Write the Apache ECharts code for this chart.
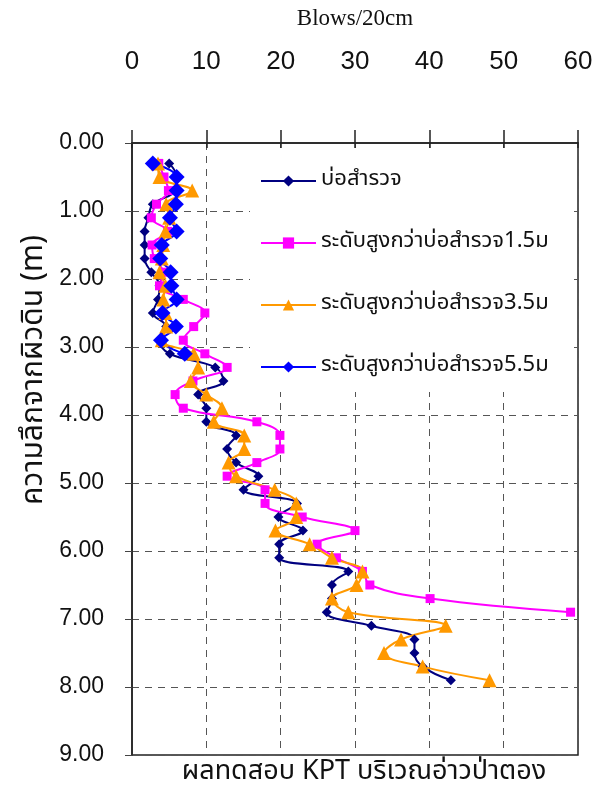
<!DOCTYPE html>
<html>
<head>
<meta charset="utf-8">
<script src="https://cdn.jsdelivr.net/npm/echarts@6/dist/echarts.min.js"></script>
<style>
  html, body { margin: 0; padding: 0; background: #fff; }
  #chart { width: 607px; height: 791px; }
</style>
</head>
<body>
<div id="chart"></div>
<script>
// depth of each reading (m)
const depths = [0.3, 0.5, 0.7, 0.9, 1.1, 1.3, 1.5, 1.7, 1.9, 2.1, 2.3, 2.5, 2.7, 2.9, 3.1,
  3.3, 3.5, 3.7, 3.9, 4.1, 4.3, 4.5, 4.7, 4.9, 5.1, 5.3, 5.5, 5.7, 5.9, 6.1,
  6.3, 6.5, 6.7, 6.9, 7.1, 7.3, 7.5, 7.7, 7.9]

// blows / 20cm
const wellData = [5, 6, 5.8, 2.8, 2.2, 1.7, 1.7, 1.7, 2.6, 3.7, 3.5, 2.8, 4.6, 3.7, 5.1,
  11.2, 12.3, 8.9, 10, 10, 14, 12.8, 14, 17, 15, 22.2, 19.7, 23, 19.8, 19.8,
  29.1, 26.9, 26.9, 26.2, 32.2, 38, 38, 39.1, 42.9]
const up15Data = [3.6, 4.3, 4.9, 3.3, 2.6, 4.8, 2.7, 3, 4.2, 3.7, 6.9, 9.8, 8.3, 6.9, 9.8,
  12.8, 8.2, 5.8, 6.9, 16.8, 19.9, 19.9, 16.8, 12.8, 17.9, 17.9, 22.9, 30, 24.9, 27.5,
  31, 32, 40.1, 59]
const up35Data = [3.5, 3.7, 8.1, 4.6, 5, 4.5, 4.2, 4, 3.7, 4.5, 4.2, 4.5, 4.6, 4, 8.3,
  8.9, 7.9, 10, 12.1, 11, 15.1, 15.1, 13, 14, 19.2, 22.1, 22.1, 19.3, 23.9, 26.9,
  31, 30.2, 26.9, 29.1, 42.2, 36.2, 33.9, 39.1, 48.1]
const up55Data = [2.8, 6, 6, 5.9, 5.1, 6, 4, 3.8, 5.2, 5.3, 6, 4.1, 5.9, 3.9, 7.1]

const xTicks = [0, 10, 20, 30, 40, 50, 60]
const yTicks = [0, 1, 2, 3, 4, 5, 6, 7, 8, 9]

const SERIES = [
  { name: 'บ่อสำรวจ', data: wellData, color: '#000080', symbol: 'diamond', size: 10 },
  { name: 'ระดับสูงกว่าบ่อสำรวจ1.5ม', data: up15Data, color: '#FF00FF', symbol: 'rect', size: 9 },
  { name: 'ระดับสูงกว่าบ่อสำรวจ3.5ม', data: up35Data, color: '#FF9900', symbol: 'triangle', size: 14 },
  { name: 'ระดับสูงกว่าบ่อสำรวจ5.5ม', data: up55Data, color: '#0000FF', symbol: 'diamond', size: 16 },
]

const THAI_FONT = "'Noto Sans Thai', 'Noto Sans', 'DejaVu Sans', sans-serif"
const AXIS_FONT = "'Liberation Sans Narrow', 'Liberation Sans', Arial, sans-serif"
const gridDash = { color: '#555', type: [7, 6], width: 1 }

const chart = echarts.init(document.getElementById('chart'))
chart.setOption({
  animation: false,
  grid: {
    left: 132,
    right: 29,
    top: 143,
    bottom: 36,
    show: true,
    borderColor: '#222',
    borderWidth: 1.5,
  },
  xAxis: [
    {
      type: 'value',
      position: 'top',
      min: xTicks[0],
      max: xTicks[xTicks.length - 1],
      interval: 10,
      name: 'Blows/20cm',
      nameLocation: 'middle',
      nameGap: 113,
      nameTextStyle: { fontFamily: "'Liberation Serif', 'Times New Roman', serif", fontSize: 23, color: '#111' },
      axisLine: { show: true, lineStyle: { color: '#222', width: 1.5 } },
      axisTick: { show: true, inside: false, length: 13, lineStyle: { color: '#222', width: 1.5 } },
      axisLabel: { color: '#111', fontSize: 26, fontFamily: AXIS_FONT, margin: 68 },
      splitLine: { show: true, lineStyle: gridDash },
    },
    {
      type: 'value',
      position: 'top',
      min: xTicks[0],
      max: xTicks[xTicks.length - 1],
      interval: 10,
      axisLine: { show: false },
      axisTick: { show: true, inside: true, length: 5, lineStyle: { color: '#222', width: 1.5 } },
      axisLabel: { show: false },
      splitLine: { show: false },
    },
  ],
  yAxis: {
    type: 'value',
    inverse: true,
    min: yTicks[0],
    max: yTicks[yTicks.length - 1],
    interval: 1,
    axisLine: { show: true, lineStyle: { color: '#222', width: 1.5 } },
    axisTick: { show: true, inside: false, length: 7, lineStyle: { color: '#444', width: 1 } },
    axisLabel: {
      color: '#111',
      fontSize: 23,
      fontFamily: "'Liberation Sans', Arial, sans-serif",
      margin: 28,
      formatter: (v) => v.toFixed(2),
    },
    splitLine: { show: true, lineStyle: gridDash },
  },
  legend: {
    orient: 'vertical',
    left: 250,
    top: 148,
    padding: [22, 20, 14, 10],
    backgroundColor: '#fff',
    itemWidth: 55,
    itemHeight: 14,
    itemGap: 40,
    textStyle: { fontFamily: THAI_FONT, fontSize: 22, color: '#111' },
    data: SERIES.map((s) => s.name),
  },
  graphic: [
    {
      type: 'text',
      x: 36,
      y: 370,
      rotation: Math.PI / 2,
      style: {
        text: 'ความลึกจากผิวดิน (m)',
        font: `30px ${THAI_FONT}`,
        fill: '#111',
        align: 'center',
        verticalAlign: 'middle',
      },
    },
    {
      type: 'text',
      x: 364,
      y: 774,
      style: {
        text: 'ผลทดสอบ KPT บริเวณอ่าวป่าตอง',
        font: `27px ${THAI_FONT}`,
        fill: '#111',
        align: 'center',
        verticalAlign: 'middle',
      },
    },
  ],
  series: SERIES.map((s) => ({
    name: s.name,
    type: 'line',
    smooth: 0.4,
    symbol: s.symbol,
    symbolSize: s.size,
    data: s.data.map((v, i) => [v, depths[i]]),
    lineStyle: { width: 2, color: s.color },
    itemStyle: { color: s.color },
  })),
})
</script>
</body>
</html>
